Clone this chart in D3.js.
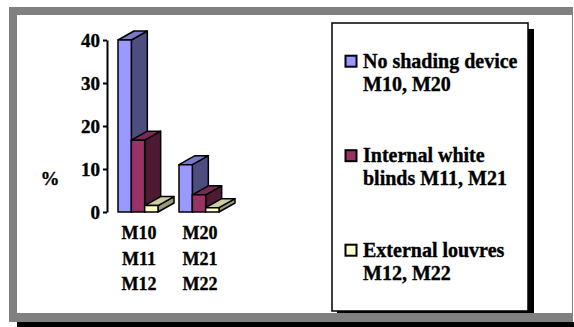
<!DOCTYPE html>
<html>
<head>
<meta charset="utf-8">
<script src="https://cdn.jsdelivr.net/npm/d3@7"></script>
<style>
  html, body { margin: 0; padding: 0; background: #fff; }
  svg { display: block; }
  svg text { stroke: #000; stroke-width: 0.35px; }
</style>
</head>
<body>
<svg id="chart" width="574" height="327"></svg>
<script>
// Share of hours (%) per configuration, two room groups
const groups = ["M10\nM11\nM12", "M20\nM21\nM22"];
const series = ["No shading device M10, M20", "Internal white blinds M11, M21", "External louvres M12, M22"];
const legendLines = [["No shading device", "M10, M20"], ["Internal white", "blinds M11, M21"], ["External louvres", "M12, M22"]];
const noShading = [40, 11];
const internalBlinds = [16.7, 4];
const externalLouvres = [1.5, 1];
const yTicks = [0, 10, 20, 30, 40];

const values = [noShading, internalBlinds, externalLouvres];
const faceColors = [
  { front: "#9999FF", top: "#7878CC", side: "#4D4D80" },
  { front: "#993366", top: "#7A2952", side: "#4D1A33" },
  { front: "#FFFFCC", top: "#CCCCA3", side: "#99997A" }
];
const FONT = "'Liberation Serif', 'Times New Roman', Times, 'DejaVu Serif', serif";

const svg = d3.select("#chart").attr("font-family", FONT).attr("font-weight", "bold");

// Outer frame with shadow strip
svg.append("rect").attr("x", 17).attr("y", 322).attr("width", 557).attr("height", 5).attr("fill", "#000");
svg.append("rect").attr("x", 9).attr("y", 7).attr("width", 564).attr("height", 315).attr("fill", "#808080");
svg.append("rect").attr("x", 17).attr("y", 15).attr("width", 555).attr("height", 298).attr("fill", "#fff");

// Scales
const y = d3.scaleLinear().domain([0, 40]).range([212, 40]);
const x0 = d3.scaleBand().domain(groups).range([118, 219]).paddingInner(0.344).paddingOuter(0);
const x1 = d3.scaleBand().domain(series).range([0, x0.bandwidth()]);
const depthX = 16, depthY = 9;

// Y axis
const axis = d3.axisLeft(y).tickValues(yTicks).tickSize(4).tickPadding(3).tickSizeOuter(0);
const ag = svg.append("g").attr("transform", "translate(107,0)").call(axis)
  .attr("font-family", FONT).attr("font-size", 19).attr("font-weight", "bold");
ag.select(".domain").attr("stroke", "#000").attr("stroke-width", 2);
ag.selectAll(".tick line").attr("stroke", "#000").attr("stroke-width", 2);
ag.selectAll(".tick text").attr("fill", "#000").attr("dy", "0.34em");

svg.append("text").attr("x", 50).attr("y", 185).attr("text-anchor", "middle")
  .attr("font-family", FONT).attr("font-size", 19).text("%");

// 3D columns
const bars = svg.append("g");
groups.forEach((g, gi) => {
  series.forEach((s, si) => {
    const v = values[si][gi];
    const xl = x0(g) + x1(s), xr = xl + x1.bandwidth();
    const yt = y(v), yb = y(0);
    const c = faceColors[si];
    const bg = bars.append("g").attr("stroke", "#000").attr("stroke-width", 1.5).attr("stroke-linejoin", "round");
    bg.append("path").attr("fill", c.side)
      .attr("d", `M${xr},${yt}L${xr + depthX},${yt - depthY}L${xr + depthX},${yb - depthY}L${xr},${yb}Z`);
    bg.append("path").attr("fill", c.top)
      .attr("d", `M${xl},${yt}L${xl + depthX},${yt - depthY}L${xr + depthX},${yt - depthY}L${xr},${yt}Z`);
    bg.append("rect").attr("fill", c.front).attr("x", xl).attr("y", yt).attr("width", xr - xl).attr("height", yb - yt);
  });
});

// Category labels (three stacked lines per group)
groups.forEach(g => {
  const t = svg.append("text").attr("text-anchor", "middle").attr("font-family", FONT).attr("font-size", 18);
  g.split("\n").forEach((line, i) => {
    t.append("tspan").attr("x", x0(g) + x0.bandwidth() / 2 + 1).attr("y", 239 + i * 25.7).text(line);
  });
});

// Legend
svg.append("rect").attr("x", 337).attr("y", 29).attr("width", 197).attr("height", 288).attr("fill", "#000");
svg.append("rect").attr("x", 332).attr("y", 23).attr("width", 196).attr("height", 288)
  .attr("fill", "#fff").attr("stroke", "#000").attr("stroke-width", 1.5);
// frame edge drawn over the legend shadow
svg.append("rect").attr("x", 17).attr("y", 313).attr("width", 555).attr("height", 9).attr("fill", "#808080");

const legendY = d3.scalePoint().domain(series).range([67.7, 256.7]);
series.forEach((s, i) => {
  const by = legendY(s);
  svg.append("rect").attr("x", 345.5).attr("y", by - 12).attr("width", 11).attr("height", 11)
    .attr("fill", faceColors[i].front).attr("stroke", "#000").attr("stroke-width", 2);
  const t = svg.append("text").attr("font-family", FONT).attr("font-size", 20);
  legendLines[i].forEach((line, j) => {
    t.append("tspan").attr("x", 363).attr("y", by + j * 23.2).text(line);
  });
});
</script>
</body>
</html>
